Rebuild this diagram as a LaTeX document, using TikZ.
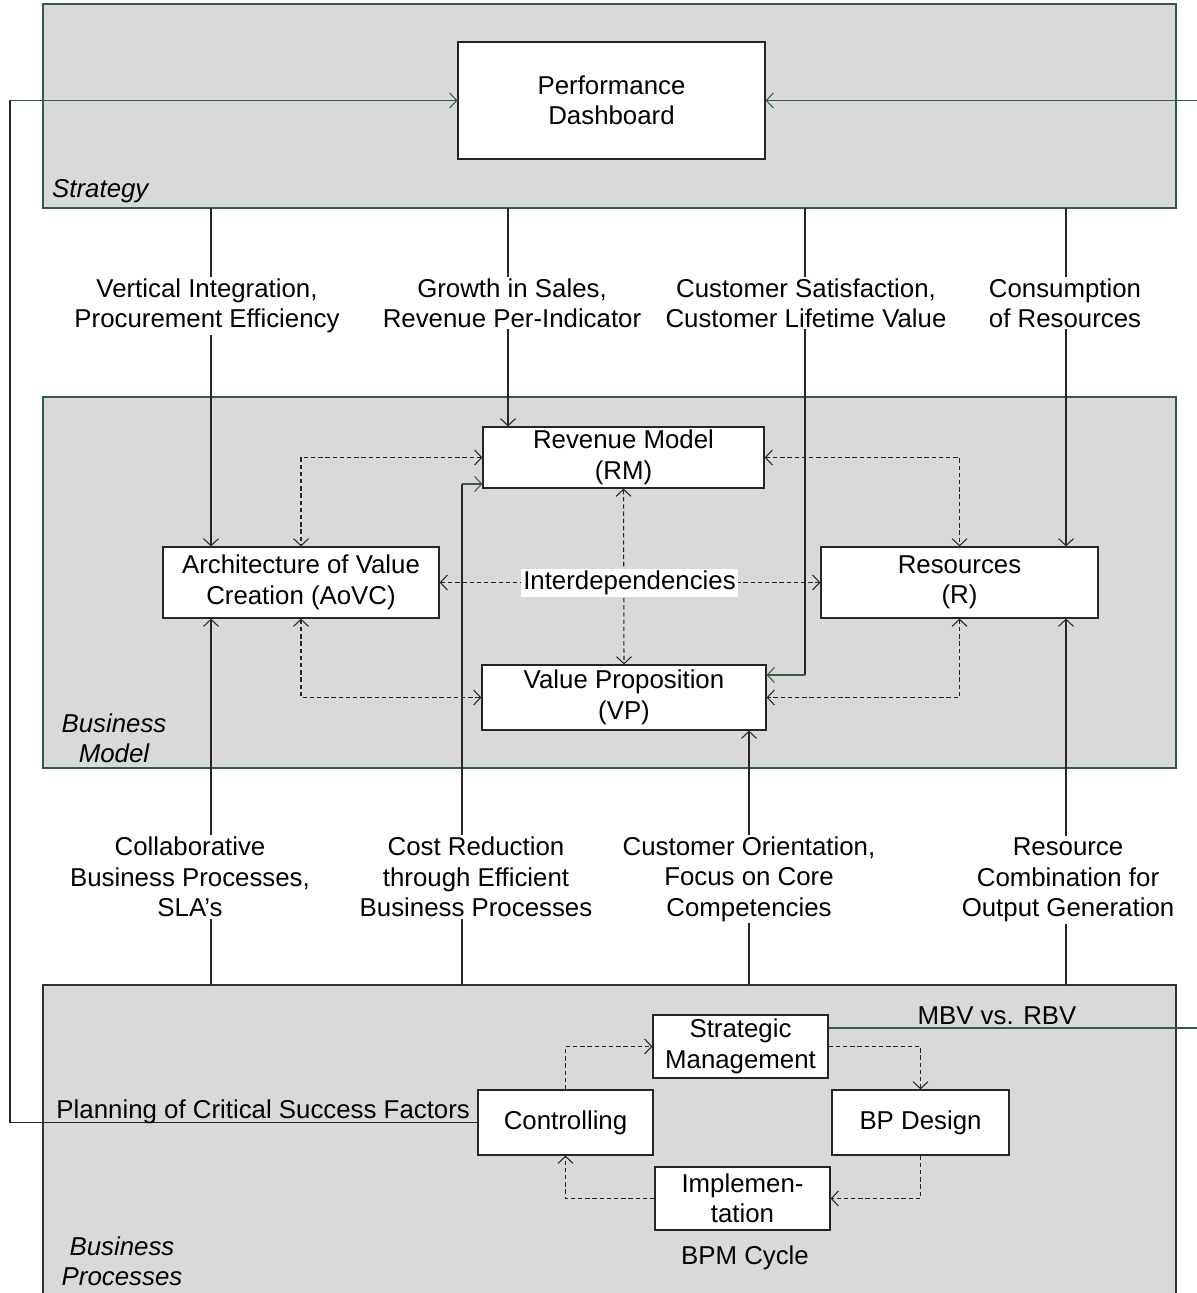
\documentclass[tikz,border=0pt]{standalone}
\usepackage{fontspec}
\setmainfont{Liberation Sans}
\usepackage{tikz}
\usetikzlibrary{arrows.meta}
\usepackage{xcolor}
\definecolor{secgray}{RGB}{217,217,217}
\definecolor{linegreen}{RGB}{50,94,64}
\newcommand{\diagfont}{\fontsize{14.7}{17.3}\selectfont}
\tikzset{
    box/.style={draw=black!85,fill=white,line width=0.7pt,inner sep=0pt,align=center},
    note/.style={fill=white,inner sep=1pt,align=center},
    plain/.style={draw=black!85,line width=0.6pt},
    conn/.style={plain,-{Straight Barb[length=4pt,width=8.5pt]}},
    gconn/.style={conn,draw=linegreen},
    dconn/.style={plain,dash pattern=on 2.5pt off 1.6pt,
        {Straight Barb[length=4pt,width=8.5pt]}-{Straight Barb[length=4pt,width=8.5pt]}},
    dcycle/.style={plain,dash pattern=on 2.5pt off 1.6pt,-{Straight Barb[length=4pt,width=8.5pt]}},
}
\newcommand{\layer}[3] {
    \draw[fill=secgray,draw=#3,line width=0.7pt] (43,#1) rectangle (1176,#2);
}
\newcommand{\pbox}[6] {
    \node[box,minimum width=#4*0.02cm,minimum height=#5*0.02cm]
        (#1) at (#2,#3) {#6};
}

\begin{document}
\begin{tikzpicture}[x=0.02cm,y=-0.02cm,font=\diagfont]
        \useasboundingbox (0,0) rectangle (1196,1293);
        \layer{4}{208}{linegreen};
        \layer{397}{768}{linegreen};
        \layer{985}{1310}{black!80};
        \node[anchor=base west,font=\diagfont\itshape] (strat) at (46,198) {Strategy};
        \node[align=center,font=\diagfont\itshape] (bizmod) at (114,738) {Business\\Model};
        \node[align=center,font=\diagfont\itshape] (bizproc) at (122,1261) {Business\\Processes};
        \pbox{dash}{611.5}{100.5}{307}{117}{Performance\\Dashboard};
        \pbox{rm}{623.5}{457.5}{281}{61}{Revenue Model\\(RM)};
        \pbox{aovc}{301}{582.5}{276}{71}{Architecture of Value\\Creation (AoVC)};
        \pbox{res}{959.5}{582.5}{277}{71}{Resources\\(R)};
        \pbox{vp}{624}{697.5}{284}{65}{Value Proposition\\(VP)};
        \pbox{sm}{740.5}{1046.5}{175}{63}{Strategic\\Management};
        \pbox{bpd}{920.5}{1122.5}{177}{65}{BP Design};
        \pbox{ctrl}{565.5}{1122.5}{175}{65}{Controlling};
        \pbox{impl}{742.5}{1198.5}{175}{63}{Implemen-\\tation};
        \coordinate (t1) at (211,208);
        \coordinate (t2) at (508,208);
        \coordinate (t3) at (805,208);
        \coordinate (t4) at (1066,208);
        \coordinate (b1) at (211,985);
        \coordinate (b2) at (462,985);
        \coordinate (b3) at (749,985);
        \coordinate (b4) at (1066,985);
        \coordinate (k3) at (805,675);
        \coordinate (k6) at (462,484);
        \coordinate (lt) at (10,100.5);
        \coordinate (rt) at (1215,1028);
        \draw[conn] (t1) -- (t1 |- aovc.north);
        \draw[conn] (t2) -- (t2 |- rm.north);
        \draw[plain] (t3) -- (k3);
        \draw[gconn] (k3) -- (k3 -| vp.east);
        \draw[conn] (t4) -- (t4 |- res.north);
        \draw[conn] (b1) -- (b1 |- aovc.south);
        \draw[plain] (b2) -- (k6);
        \draw[gconn] (k6) -- (k6 -| rm.west);
        \draw[conn] (b3) -- (b3 |- vp.south);
        \draw[conn] (b4) -- (b4 |- res.south);
        \draw[dconn] (rm.west) -| (aovc.north);
        \draw[dconn] (aovc.south) |- (vp.west);
        \draw[dconn] (rm.east) -| (res.north);
        \draw[dconn] (res.south) |- (vp.east);
        \draw[dconn] (rm.south) -- (vp.north);
        \draw[dconn] (aovc.east) -- (res.west);
        \node[note] (inter) at (629.5,583) {Interdependencies};
        \draw[dcycle] (ctrl.north) |- (sm.west);
        \draw[dcycle] (sm.east) -| (bpd.north);
        \draw[dcycle] (bpd.south) |- (impl.east);
        \draw[dcycle] (impl.west) -| (ctrl.south);
        \draw[plain] (ctrl.west) -| (lt);
        \draw[gconn] (lt) -- (dash.west);
        \draw[gconn] (sm.east |- rt) -- (rt) |- (dash.east);
        \node[note] (l1) at (207,306) {Vertical Integration,\\Procurement Efficiency};
        \node[note] (l2) at (512,303) {Growth in Sales,\\Revenue Per-Indicator};
        \node[note] (l3) at (806,303) {Customer Satisfaction,\\Customer Lifetime Value};
        \node[note] (l4) at (1065,303) {Consumption\\of Resources};
        \node[note] (l5) at (190,877) {Collaborative\\Business Processes,\\SLA{\char"0027}s};
        \node[note] (l6) at (476,877) {Cost Reduction\\through Efficient\\Business Processes};
        \node[note] (l7) at (749,879) {Customer Orientation,\\Focus on Core\\Competencies};
        \node[note] (l8) at (1068,880) {Resource\\Combination for\\Output Generation};
        \node[anchor=base east,inner sep=1pt] (plan) at (472,1118) {Planning of Critical Success Factors};
        \node[anchor=base,inner sep=1pt] (mbv) at (997,1024) {MBV vs. RBV};
        \node[inner sep=1pt] (cycle) at (745,1258) {BPM Cycle};
    \end{tikzpicture}
\end{document}
